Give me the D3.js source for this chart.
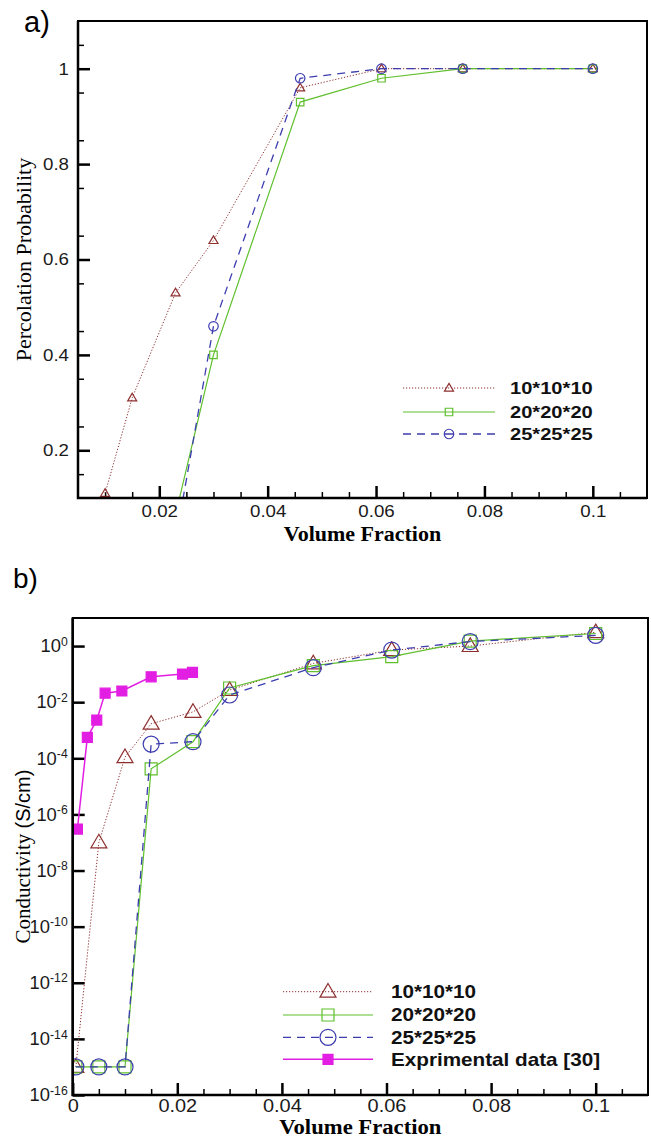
<!DOCTYPE html>
<html>
<head>
<meta charset="utf-8">
<script src="https://cdn.jsdelivr.net/npm/d3@7"></script>
<style>
  body { margin: 0; background: #fff; }
  svg { display: block; }
</style>
</head>
<body>
<div id="container"></div>
<script>
// a) percolation probability vs volume fraction
const probX10 = [0.01, 0.015, 0.023, 0.03, 0.046, 0.061, 0.076, 0.1];
const probY10 = [0.11, 0.31, 0.53, 0.64, 0.96, 1.0, 1.0, 1.0];
const probX20 = [0.023, 0.03, 0.046, 0.061, 0.076, 0.1];
const probY20 = [0.065, 0.40, 0.93, 0.98, 1.0, 1.0];
const probX25 = [0.023, 0.03, 0.046, 0.061, 0.076, 0.1];
const probY25 = [0.01, 0.46, 0.98, 1.0, 1.0, 1.0];

// b) conductivity vs volume fraction
const condX = [0.0006, 0.005, 0.01, 0.015, 0.023, 0.03, 0.046, 0.061, 0.076, 0.1];
const condY10 = [1e-15, 1e-7, 1.1e-4, 1.7e-3, 4.5e-3, 0.027, 0.24, 0.72, 1.0, 3.1];
const condY20 = [1e-15, 1e-15, 1e-15, 4.2e-5, 3.9e-4, 0.032, 0.2, 0.42, 1.5, 2.8];
const condY25 = [1e-15, 1e-15, 1e-15, 3.2e-4, 3.9e-4, 0.018, 0.17, 0.72, 1.45, 2.4];
const expX = [0.0009, 0.0028, 0.0046, 0.0062, 0.0094, 0.015, 0.021, 0.0229];
const expY = [3e-7, 5.6e-4, 2.3e-3, 2.1e-2, 2.5e-2, 8e-2, 0.1, 0.115];

const seriesNames = ["10*10*10", "20*20*20", "25*25*25", "Exprimental data [30]"];
const probTicksX = [0.02, 0.04, 0.06, 0.08, 0.1];
const probTicksY = [0.2, 0.4, 0.6, 0.8, 1];
const condTicksX = [0, 0.02, 0.04, 0.06, 0.08, 0.1];
const condTicksExp = [0, -2, -4, -6, -8, -10, -12, -14, -16];

const width = 651;
const height = 1142;
const sans = "'Liberation Sans', Arial, sans-serif";
const serif = "'Liberation Serif', 'Times New Roman', serif";

const styles = [
  { color: "#8e2f2f", dash: "1.2,1.8", lw: 1, shape: "tri" },
  { color: "#5fbf2c", dash: null, lw: 1.2, shape: "sq" },
  { color: "#3d3db0", dash: "8,6", lw: 1.3, shape: "circ" },
  { color: "#e31ee3", dash: null, lw: 1.5, shape: "fsq" }
];

const svg = d3.select("#container")
  .append("svg")
  .attr("width", width)
  .attr("height", height);

// widen text horizontally around its anchor
function stretch(sel, s) {
  sel.each(function() {
    const x = +this.getAttribute("x") || 0;
    d3.select(this).attr("transform", `translate(${x},0) scale(${s},1) translate(${-x},0)`);
  });
}

function shapePath(shape, s) {
  if (shape === "tri") {
    const h = s * 0.85;
    return `M0,${-h * 0.6}L${s / 2},${h * 0.4}L${-s / 2},${h * 0.4}Z`;
  }
  if (shape === "circ") {
    const r = s / 2;
    return `M${-r},0a${r},${r} 0 1,0 ${2 * r},0a${r},${r} 0 1,0 ${-2 * r},0Z`;
  }
  return `M${-s / 2},${-s / 2}h${s}v${s}h${-s}Z`;
}

function drawSeries(g, xs, ys, x, y, st, size) {
  const pts = xs.map((d, i) => [d, ys[i]]);
  g.append("path")
    .datum(pts)
    .attr("fill", "none")
    .attr("stroke", st.color)
    .attr("stroke-width", st.lw)
    .attr("stroke-dasharray", st.dash)
    .attr("d", d3.line().x(d => x(d[0])).y(d => y(d[1])));
  g.selectAll(null)
    .data(pts)
    .join("path")
      .attr("transform", d => `translate(${x(d[0])},${y(d[1])})`)
      .attr("d", shapePath(st.shape, size))
      .attr("fill", st.shape === "fsq" ? st.color : "none")
      .attr("stroke", st.color)
      .attr("stroke-width", 1.2);
}

function drawLegend(g, names, x1, x2, rows, textX, fontSize, sizes, sc) {
  names.forEach((name, i) => {
    const st = styles[i];
    g.append("line")
      .attr("x1", x1).attr("x2", x2)
      .attr("y1", rows[i]).attr("y2", rows[i])
      .attr("stroke", st.color)
      .attr("stroke-width", st.lw)
      .attr("stroke-dasharray", st.dash);
    g.append("path")
      .attr("transform", `translate(${(x1 + x2) / 2},${rows[i]})`)
      .attr("d", shapePath(st.shape, sizes[i]))
      .attr("fill", st.shape === "fsq" ? st.color : "none")
      .attr("stroke", st.color)
      .attr("stroke-width", 1.2);
    g.append("text")
      .attr("x", textX)
      .attr("y", rows[i] + 6.5)
      .attr("font-family", sans)
      .attr("font-weight", "bold")
      .attr("font-size", fontSize)
      .attr("fill", "#111")
      .text(name)
      .call(stretch, sc);
  });
}

function styleAxis(g, fontSize, sc, lw) {
  g.select(".domain").remove();
  g.selectAll(".tick line").attr("stroke", "#000").attr("stroke-width", lw);
  g.selectAll("text")
    .attr("font-family", sans)
    .attr("font-size", fontSize)
    .attr("fill", "#1a1a1a")
    .call(stretch, sc);
}

// ---------- panel a ----------
const aL = 78, aT = 21, aR = 647, aB = 498;
const xA = d3.scaleLinear().domain([0.005, 0.11]).range([aL, aR]);
const yA = d3.scaleLinear().domain([0.1, 1.1]).range([aB, aT]);
const gA = svg.append("g");

gA.append("clipPath").attr("id", "clipA")
  .append("rect").attr("x", aL).attr("y", aT).attr("width", aR - aL).attr("height", aB - aT);

const minorAX = d3.range(10, 110, 5).map(d => d / 1000).filter(d => Math.round(d * 1000) % 20 !== 0);
const minorAY = d3.range(15, 110, 10).map(d => d / 100);

gA.append("g").attr("transform", `translate(0,${aB})`)
  .call(d3.axisBottom(xA).tickValues(minorAX).tickSize(-6).tickFormat(""))
  .call(styleAxis, 16, 1, 1.5);
gA.append("g").attr("transform", `translate(0,${aB})`)
  .call(d3.axisBottom(xA).tickValues(probTicksX).tickSize(-12).tickPadding(7).tickFormat(d3.format("")))
  .call(styleAxis, "17px", 1.1, 2.5);
gA.append("g").attr("transform", `translate(${aL},0)`)
  .call(d3.axisLeft(yA).tickValues(minorAY).tickSize(-6).tickFormat(""))
  .call(styleAxis, 16, 1, 1.5);
gA.append("g").attr("transform", `translate(${aL},0)`)
  .call(d3.axisLeft(yA).tickValues(probTicksY).tickSize(-12).tickPadding(9).tickFormat(d3.format("")))
  .call(styleAxis, "17px", 1.1, 2.5);

const plotA = gA.append("g").attr("clip-path", "url(#clipA)");
drawSeries(plotA, probX10, probY10, xA, yA, styles[0], 9);
drawSeries(plotA, probX20, probY20, xA, yA, styles[1], 7.5);
drawSeries(plotA, probX25, probY25, xA, yA, styles[2], 9.5);

gA.append("rect")
  .attr("x", aL).attr("y", aT).attr("width", aR - aL).attr("height", aB - aT)
  .attr("fill", "none").attr("stroke", "#000").attr("stroke-width", 2);
gA.append("path")
  .attr("d", `M${aL},${aT}V${aB}H${aR}`)
  .attr("fill", "none").attr("stroke", "#000").attr("stroke-width", 2.5);

drawLegend(gA, seriesNames.slice(0, 3), 403, 495, [388, 412, 434], 510, "16.5px", [9, 7.5, 9.5], 1.22);

gA.append("text")
  .attr("x", (aL + aR) / 2).attr("y", 541)
  .attr("text-anchor", "middle")
  .attr("font-family", serif).attr("font-weight", "bold").attr("font-size", "20px")
  .text("Volume Fraction")
  .call(stretch, 1.1);
gA.append("text")
  .attr("transform", `translate(31,${(aT + aB) / 2}) rotate(-90)`)
  .attr("text-anchor", "middle")
  .attr("font-family", serif).attr("font-size", "22px")
  .text("Percolation Probability");
gA.append("text")
  .attr("x", 24).attr("y", 32)
  .attr("font-family", sans).attr("font-size", "29px")
  .text("a)");

// ---------- panel b ----------
const bL = 72.7, bT = 618, bR = 648, bB = 1095;
const xB = d3.scaleLinear().domain([0, 0.11]).range([bL, bR]);
const yB = d3.scaleLog().domain([1e-16, 10]).range([bB, bT]);
const gB = svg.append("g");

gB.append("clipPath").attr("id", "clipB")
  .append("rect").attr("x", bL).attr("y", bT).attr("width", bR - bL).attr("height", bB - bT);

const minorBX = d3.range(5, 110, 5).map(d => d / 1000).filter(d => Math.round(d * 1000) % 20 !== 0);

gB.append("g").attr("transform", `translate(0,${bB})`)
  .call(d3.axisBottom(xB).tickValues(minorBX).tickSize(-6).tickFormat(""))
  .call(styleAxis, 16, 1, 1.5);
gB.append("g").attr("transform", `translate(0,${bB})`)
  .call(d3.axisBottom(xB).tickValues(condTicksX).tickSize(-12).tickPadding(4).tickFormat(d3.format("")))
  .call(styleAxis, "19px", 1.05, 2.5);

const yAxisB = gB.append("g").attr("transform", `translate(${bL},0)`)
  .call(d3.axisLeft(yB).tickValues(condTicksExp.map(e => Math.pow(10, e))).tickSize(-12).tickPadding(5).tickFormat(""));
yAxisB.selectAll(".tick text")
  .text("10")
  .append("tspan")
    .attr("dy", "-0.55em")
    .attr("font-size", "12px")
    .text(d => String(Math.round(Math.log10(d))));
yAxisB.call(styleAxis, "18px", 1.02, 2.5);

const plotB = gB.append("g").attr("clip-path", "url(#clipB)");
drawSeries(plotB, condX, condY10, xB, yB, styles[0], 16);
drawSeries(plotB, condX, condY20, xB, yB, styles[1], 12);
drawSeries(plotB, condX, condY25, xB, yB, styles[2], 16);
drawSeries(plotB, expX, expY, xB, yB, styles[3], 10);

gB.append("rect")
  .attr("x", bL).attr("y", bT).attr("width", bR - bL).attr("height", bB - bT)
  .attr("fill", "none").attr("stroke", "#000").attr("stroke-width", 2);
gB.append("path")
  .attr("d", `M${bL},${bT}V${bB}H${bR}`)
  .attr("fill", "none").attr("stroke", "#000").attr("stroke-width", 2.5);

drawLegend(gB, seriesNames, 283, 373, [991.7, 1015, 1037.3, 1059.3], 391, "18px", [16, 12, 16, 10], 1.15);

gB.append("text")
  .attr("x", (bL + bR) / 2).attr("y", 1134)
  .attr("text-anchor", "middle")
  .attr("font-family", serif).attr("font-weight", "bold").attr("font-size", "21px")
  .text("Volume Fraction")
  .call(stretch, 1.08);
const yTitleB = gB.append("text")
  .attr("transform", `translate(30,${(bT + bB) / 2}) rotate(-90)`)
  .attr("text-anchor", "middle")
  .attr("font-family", serif).attr("font-size", "21px");
yTitleB.append("tspan").text("Conductivity ");
yTitleB.append("tspan").attr("font-family", sans).attr("font-size", "20px").text("(S/cm)");
gB.append("text")
  .attr("x", 13).attr("y", 588)
  .attr("font-family", sans).attr("font-size", "28px")
  .text("b)");
</script>
</body>
</html>
